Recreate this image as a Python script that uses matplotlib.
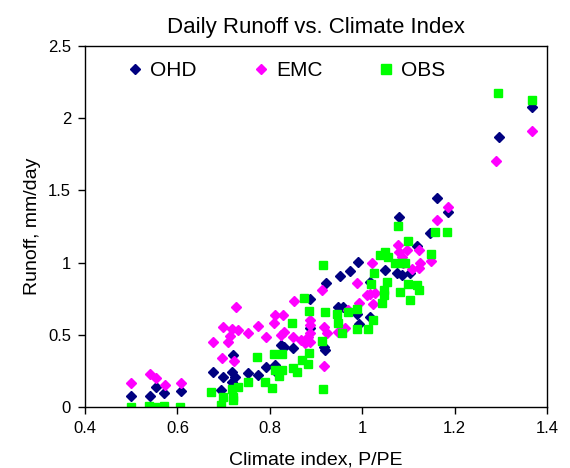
import matplotlib
matplotlib.use('Agg')
import matplotlib.pyplot as plt
from matplotlib.ticker import FuncFormatter

plt.rcParams['font.family'] = ['Liberation Sans', 'DejaVu Sans']

# OHD points (climate index, runoff)
ohd_x = [0.50, 0.54, 0.554, 0.57, 0.607, 0.676, 0.694, 0.699, 0.719, 0.721, 0.725, 0.718,
         0.753, 0.774, 0.792, 0.811, 0.815, 0.824, 0.831, 0.851, 0.887, 0.918, 0.919, 0.887,
         0.921, 0.948, 0.959, 0.952, 0.974, 0.990, 0.988, 0.992, 1.017, 1.017, 1.049, 1.075,
         1.085, 1.103, 1.080, 1.118, 1.147, 1.161, 1.185, 1.295, 1.368]
ohd_y = [0.08, 0.08, 0.14, 0.10, 0.11, 0.245, 0.118, 0.21, 0.245, 0.36, 0.206, 0.175,
         0.238, 0.222, 0.275, 0.291, 0.238, 0.43, 0.413, 0.406, 0.545, 0.413, 0.395, 0.746,
         0.857, 0.695, 0.695, 0.909, 0.942, 1.006, 0.644, 0.575, 0.625, 0.868, 0.949, 0.926,
         0.914, 0.926, 1.318, 1.115, 1.207, 1.445, 1.352, 1.872, 2.08]

# EMC points
emc_x = [0.50, 0.541, 0.554, 0.573, 0.607, 0.676, 0.696, 0.699, 0.710, 0.714, 0.719, 0.723,
         0.727, 0.732, 0.753, 0.775, 0.792, 0.808, 0.811, 0.824, 0.829, 0.831, 0.851, 0.852,
         0.868, 0.876, 0.887, 0.887, 0.887, 0.883, 0.887, 0.912, 0.918, 0.923, 0.918, 0.948,
         0.963, 0.970, 0.988, 0.992, 1.010, 1.017, 1.028, 1.024, 1.021, 1.078, 1.080, 1.089,
         1.096, 1.122, 1.085, 1.125, 1.107, 1.122, 1.149, 1.161, 1.185, 1.290, 1.368]
emc_y = [0.17, 0.226, 0.20, 0.15, 0.17, 0.452, 0.341, 0.552, 0.452, 0.49, 0.538, 0.321,
         0.695, 0.533, 0.515, 0.561, 0.483, 0.58, 0.637, 0.499, 0.637, 0.521, 0.487, 0.736,
         0.464, 0.441, 0.51, 0.603, 0.568, 0.487, 0.452, 0.81, 0.556, 0.51, 0.284, 0.521,
         0.545, 0.672, 0.861, 0.718, 0.776, 0.782, 0.787, 0.713, 0.999, 1.122, 1.075, 0.995,
         1.087, 1.087, 1.041, 0.999, 0.954, 0.961, 1.013, 1.295, 1.383, 1.70, 1.913]

# OBS points
obs_x = [0.50, 0.539, 0.552, 0.572, 0.606, 0.673, 0.694, 0.699, 0.718, 0.721, 0.721, 0.732,
         0.752, 0.772, 0.790, 0.804, 0.808, 0.811, 0.820, 0.827, 0.827, 0.847, 0.851, 0.858,
         0.869, 0.873, 0.883, 0.885, 0.885, 0.912, 0.916, 0.916, 0.919, 0.946, 0.948, 0.957,
         0.970, 0.988, 0.989, 1.012, 1.024, 1.026, 1.019, 1.038, 1.049, 1.056, 1.042, 1.046,
         1.048, 1.053, 1.071, 1.085, 1.077, 1.082, 1.093, 1.098, 1.098, 1.103, 1.118, 1.122,
         1.149, 1.158, 1.183, 1.293, 1.367]
obs_y = [0.0, 0.007, 0.0, 0.01, 0.0, 0.106, 0.014, 0.071, 0.129, 0.071, 0.048, 0.141,
         0.175, 0.348, 0.175, 0.136, 0.367, 0.256, 0.215, 0.367, 0.256, 0.58, 0.268, 0.245,
         0.325, 0.753, 0.302, 0.376, 0.665, 0.457, 0.129, 0.983, 0.66, 0.642, 0.584, 0.51,
         0.66, 0.677, 0.538, 0.542, 0.602, 0.93, 0.852, 1.053, 1.075, 1.041, 0.718, 0.776,
         0.81, 0.868, 0.995, 0.995, 1.253, 0.798, 0.995, 1.15, 0.852, 0.741, 0.845, 0.81,
         1.06, 1.214, 1.214, 2.172, 2.126]

fig = plt.figure(figsize=(5.7, 4.68), dpi=100)
ax = fig.add_axes([0.149, 0.130, 0.811, 0.772])

ax.plot(ohd_x, ohd_y, 'D', color='#000080', markersize=4.8, linestyle='none', label='OHD')
ax.plot(emc_x, emc_y, 'D', color='#FF00FF', markersize=4.8, linestyle='none', label='EMC')
ax.plot(obs_x, obs_y, 's', color='#00FF00', markersize=6.0, linestyle='none', label='OBS')

ax.set_xlim(0.4, 1.4)
ax.set_ylim(0, 2.5)
ax.set_xticks([0.4, 0.6, 0.8, 1.0, 1.2, 1.4])
ax.set_yticks([0, 0.5, 1.0, 1.5, 2.0, 2.5])
fmt = FuncFormatter(lambda v, p: '%g' % v)
ax.xaxis.set_major_formatter(fmt)
ax.yaxis.set_major_formatter(fmt)
ax.tick_params(direction='out', length=5, labelsize=12, width=1, pad=5)
for s in ax.spines.values():
    s.set_linewidth(1)
    s.set_color('black')

ax.set_xlabel('Climate index, P/PE', fontsize=14, labelpad=11)
ax.set_ylabel('Runoff, mm/day', fontsize=14, labelpad=5)
ax.set_title('Daily Runoff vs. Climate Index', fontsize=16, pad=9)

ax.legend(loc='upper left', bbox_to_anchor=(0.086, 0.958), ncol=3, frameon=False,
          fontsize=15, handletextpad=0.22, columnspacing=2.58, handlelength=1.0,
          borderpad=0, borderaxespad=0, markerscale=1.1)

fig.savefig('out.png', dpi=100)
